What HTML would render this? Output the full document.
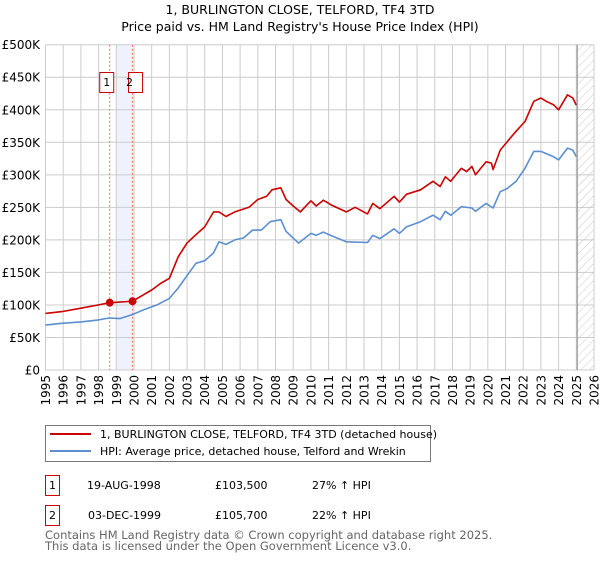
<!DOCTYPE html>
<html><head><meta charset="utf-8">
<style>
body{margin:0;background:#fff;font-family:"Liberation Sans","DejaVu Sans",sans-serif;}
svg text{font-family:"DejaVu Sans","Liberation Sans",sans-serif;}
</style></head>
<body>
<svg width="600" height="560" viewBox="0 0 600 560" xmlns="http://www.w3.org/2000/svg">
<defs>
<pattern id="hatch" patternUnits="userSpaceOnUse" width="6" height="6" patternTransform="rotate(45)">
<line x1="0" y1="0" x2="0" y2="6" stroke="#bbb" stroke-width="0.8"/>
</pattern>
</defs>
<text x="300" y="14" text-anchor="middle" font-size="12.5">1, BURLINGTON CLOSE, TELFORD, TF4 3TD</text>
<text x="300" y="31" text-anchor="middle" font-size="12.5">Price paid vs. HM Land Registry's House Price Index (HPI)</text>
<g id="grid"></g>
<g id="marks"></g>
<g id="axes"></g>
<g>
<rect x="45.5" y="425.5" width="385" height="36" fill="#fff" stroke="#777"/>
<line x1="50" y1="434" x2="91" y2="434" stroke="#cc0000" stroke-width="2"/>
<text x="100" y="438" font-size="11">1, BURLINGTON CLOSE, TELFORD, TF4 3TD (detached house)</text>
<line x1="50" y1="451" x2="91" y2="451" stroke="#5b8fd0" stroke-width="2"/>
<text x="100" y="455" font-size="11">HPI: Average price, detached house, Telford and Wrekin</text>
</g>
<g font-size="11">
<rect x="45.5" y="475.5" width="14" height="20" fill="#fff" stroke="#cc0000"/>
<text x="52.5" y="489" text-anchor="middle">1</text>
<text x="87" y="489">19-AUG-1998</text>
<text x="215" y="489">£103,500</text>
<text x="312" y="489">27% ↑ HPI</text>
<rect x="45.5" y="505.5" width="14" height="20" fill="#fff" stroke="#cc0000"/>
<text x="52.5" y="519" text-anchor="middle">2</text>
<text x="88" y="519">03-DEC-1999</text>
<text x="215" y="519">£105,700</text>
<text x="312" y="519">22% ↑ HPI</text>
</g>
<text x="45" y="539" font-size="11.5" fill="#666">Contains HM Land Registry data © Crown copyright and database right 2025.</text>
<text x="45" y="550" font-size="11.5" fill="#666">This data is licensed under the Open Government Licence v3.0.</text>
</svg>
<script>
const redYears=[1995,1996,1997,1998,1998.63,1999,1999.92,2000.5,2001,2001.5,2002,2002.5,2003,2003.5,2004,2004.5,2004.8,2005.2,2005.7,2006.5,2007,2007.5,2007.8,2008.3,2008.6,2009,2009.4,2010,2010.3,2010.7,2011.2,2012,2012.5,2013.2,2013.5,2013.9,2014.7,2015,2015.4,2016.2,2016.9,2017.3,2017.6,2017.9,2018.5,2018.8,2019.1,2019.3,2019.9,2020.2,2020.3,2020.7,2021.1,2021.6,2022.1,2022.6,2023,2023.3,2023.7,2024,2024.5,2024.8,2025];
const redValues=[87,90,95,100,103.5,104,105.7,115,123,133,141,174,195,208,220,243,243,236,243,250,262,267,277,280,262,252,243,260,252,261,253,243,250,240,256,248,267,258,270,277,290,282,297,290,310,305,313,300,320,318,308,338,351,367,382,413,418,413,408,400,423,418,407];
const hpiYears=[1995,1996,1997,1998,1998.6,1999.2,1999.9,2000.5,2001.3,2002,2002.5,2003,2003.5,2004,2004.5,2004.8,2005.2,2005.7,2006.2,2006.7,2007.2,2007.7,2008.3,2008.6,2009.3,2010,2010.3,2010.7,2011.2,2012,2013.2,2013.5,2013.9,2014.7,2015,2015.4,2016.2,2016.9,2017.3,2017.6,2017.9,2018.5,2019.1,2019.3,2019.9,2020.3,2020.7,2021.1,2021.6,2022.1,2022.6,2023,2023.7,2024,2024.5,2024.8,2025];
const hpiValues=[69,72,74,77,80,79,85,92,100,110,126,145,164,168,180,197,193,200,203,215,215,228,231,213,195,210,207,212,206,197,196,207,202,217,210,220,228,238,231,244,238,251,249,244,256,249,274,279,290,310,336,336,328,323,341,338,328];
const saleYears=[1998.63,1999.92];
const saleValues=[103.5,105.7];
const yTicks=[0,50,100,150,200,250,300,350,400,450,500];
const yTickLabels=["£0","£50K","£100K","£150K","£200K","£250K","£300K","£350K","£400K","£450K","£500K"];
const xTicks=[1995,1996,1997,1998,1999,2000,2001,2002,2003,2004,2005,2006,2007,2008,2009,2010,2011,2012,2013,2014,2015,2016,2017,2018,2019,2020,2021,2022,2023,2024,2025,2026];
const dataEnd=2025.05;

const NS="http://www.w3.org/2000/svg";
const X0=45.5,X1=594,Y0=370,Y1=44.7;
const xs=y=>X0+(y-1995)/(2026-1995)*(X1-X0);
const ys=v=>Y0-v/500*(Y0-Y1);
function mk(tag,attrs,parent){const e=document.createElementNS(NS,tag);for(const k in attrs)e.setAttribute(k,attrs[k]);parent.appendChild(e);return e;}
const grid=document.getElementById('grid'),marks=document.getElementById('marks'),axes=document.getElementById('axes');
// band
let band=mk('rect',{x:xs(1999.0),y:Y1,width:xs(1999.92)-xs(1999.0),height:Y0-Y1,fill:'#eef2fc'},grid);


yTicks.forEach((t,i)=>{
  const l=mk('line',{x1:X0,x2:X1,y1:ys(t),y2:ys(t),stroke:'#ccc','stroke-width':1},grid);
  
  
  const tx=mk('text',{x:40,y:ys(t)+4.5,'text-anchor':'end','font-size':12},axes);
  tx.textContent=yTickLabels[i];
  
  
});
xTicks.forEach(t=>{
  const l=mk('line',{x1:xs(t),x2:xs(t),y1:Y1,y2:Y0,stroke:'#ccc','stroke-width':1},grid);
  
  
  const tx=mk('text',{transform:`translate(${xs(t)+4.5},${Y0+5}) rotate(-90)`,'text-anchor':'end','font-size':12},axes);
  tx.textContent=t;
  
  
});
let h=mk('rect',{x:xs(dataEnd),y:Y1,width:X1-xs(dataEnd),height:Y0-Y1,fill:'url(#hatch)'},grid);


let el=mk('line',{x1:xs(dataEnd),x2:xs(dataEnd),y1:Y1,y2:Y0,stroke:'#888','stroke-width':1},grid);


saleYears.forEach((y,i)=>{
  const l=mk('line',{x1:xs(y),x2:xs(y),y1:Y1,y2:Y0,stroke:'#ff6666','stroke-width':1,'stroke-dasharray':'2,2'},marks);
  
  
  const r=mk('rect',{x:xs(y)-(i==0?10:4),y:72.5,width:14,height:20,fill:'#fff',stroke:'#cc0000'},marks);
  
  
  const t=mk('text',{x:xs(y)-(i==0?3:3),y:86,'text-anchor':'middle','font-size':11},marks);
  t.textContent=String(i+1);
  
  
});
function path(xa,va,color,name){
  const d=xa.map((y,i)=>(i?'L':'M')+xs(y).toFixed(1)+','+ys(va[i]).toFixed(1)).join('');
  const p=mk('path',{d:d,fill:'none',stroke:color,'stroke-width':1.6,'stroke-linejoin':'round'},marks);
  
  
}
path(hpiYears,hpiValues,'#5b8fd0','hpi-line');
path(redYears,redValues,'#cc0000','property-price-line');
saleYears.forEach((y,i)=>{
  const c=mk('circle',{cx:xs(y),cy:ys(saleValues[i]),r:4,fill:'#cc0000'},marks);
  
  
});
</script>
</body></html>
